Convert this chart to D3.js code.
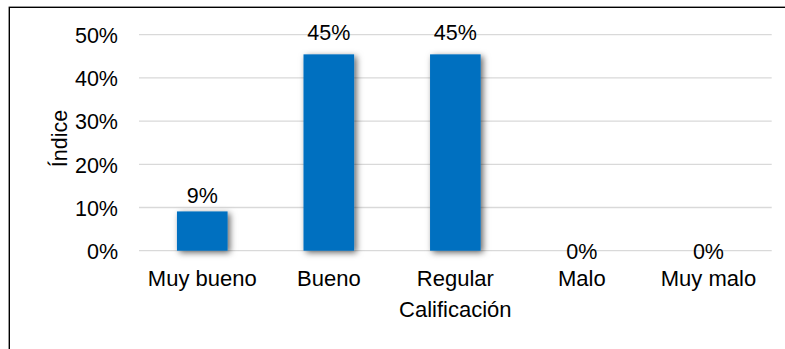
<!DOCTYPE html>
<html>
<head>
<meta charset="utf-8">
<script src="https://cdn.jsdelivr.net/npm/d3@7"></script>
<style>
  html, body { margin: 0; padding: 0; background: #fff; }
  svg { display: block; font-family: "Liberation Sans", Arial, sans-serif; }
</style>
</head>
<body>
<svg id="chart" width="785" height="349"></svg>
<script>
const categories = ["Muy bueno", "Bueno", "Regular", "Malo", "Muy malo"];
const values = [0.0909, 0.4545, 0.4545, 0, 0];
const valueLabels = ["9%", "45%", "45%", "0%", "0%"];
const yTicks = [0, 0.1, 0.2, 0.3, 0.4, 0.5];
const xTitle = "Calificación";
const yTitle = "Índice";

const svg = d3.select("#chart");
const W = 785, H = 349;
const plot = { left: 139, right: 771.7, top: 34.7, bottom: 250.7 };
const FONT = "'Liberation Sans', Arial, sans-serif";

// outer border (left + top visible, rest cropped)
svg.append("rect")
  .attr("x", 9.3).attr("y", 7.3)
  .attr("width", W + 20).attr("height", H + 20)
  .attr("fill", "none").attr("stroke", "#000").attr("stroke-width", 1.4);

const defs = svg.append("defs");
const f = defs.append("filter").attr("id", "shadow")
  .attr("x", "-30%").attr("y", "-30%").attr("width", "160%").attr("height", "160%");
f.append("feDropShadow").attr("dx", 2.5).attr("dy", 2)
  .attr("stdDeviation", 3).attr("flood-color", "#000").attr("flood-opacity", 0.6);

const x = d3.scaleBand().domain(categories)
  .range([plot.left, plot.right]).paddingInner(0.6).paddingOuter(0.3);
const y = d3.scaleLinear().domain([0, 0.5]).range([plot.bottom, plot.top]);

// gridlines
svg.append("g").selectAll("line").data(yTicks).join("line")
  .attr("x1", plot.left).attr("x2", plot.right)
  .attr("y1", d => y(d)).attr("y2", d => y(d))
  .attr("stroke", "#D9D9D9").attr("stroke-width", 1.3);

// y axis
const yAxis = svg.append("g")
  .attr("transform", `translate(${plot.left},0)`)
  .call(d3.axisLeft(y).tickValues(yTicks).tickFormat(d3.format(".0%")).tickSize(0).tickPadding(21));
yAxis.select(".domain").remove();
yAxis.selectAll("text").attr("font-size", 21.5).attr("fill", "#000")
  .attr("font-family", FONT).attr("dy", "0.36em");

// x axis
const xAxis = svg.append("g")
  .attr("transform", `translate(0,${plot.bottom})`)
  .call(d3.axisBottom(x).tickSize(0).tickPadding(0));
xAxis.select(".domain").remove();
xAxis.selectAll("text").attr("font-size", 22).attr("fill", "#000")
  .attr("font-family", FONT)
  .attr("dy", null).attr("y", 35);

// bars
svg.append("g").selectAll("rect").data(categories).join("rect")
  .attr("x", d => x(d))
  .attr("y", (d, i) => y(values[i]))
  .attr("width", x.bandwidth())
  .attr("height", (d, i) => y(0) - y(values[i]))
  .attr("fill", "#0070C0")
  .attr("filter", (d, i) => values[i] > 0 ? "url(#shadow)" : null);

// value labels
svg.append("g").selectAll("text").data(categories).join("text")
  .attr("x", d => x(d) + x.bandwidth() / 2)
  .attr("y", (d, i) => values[i] > 0 ? y(values[i]) - (7 + 15.4 * values[i]) : y(values[i]) + 8.6)
  .attr("text-anchor", "middle")
  .attr("font-size", 21.5).attr("fill", "#000")
  .text((d, i) => valueLabels[i]);

// axis titles
svg.append("text")
  .attr("x", (plot.left + plot.right) / 2).attr("y", 317.3)
  .attr("text-anchor", "middle").attr("font-size", 22).attr("fill", "#000")
  .text(xTitle);

svg.append("text")
  .attr("transform", "translate(67.3,138.5) rotate(-90)")
  .attr("text-anchor", "middle").attr("font-size", 21.5).attr("fill", "#000")
  .text(yTitle);
</script>
</body>
</html>
